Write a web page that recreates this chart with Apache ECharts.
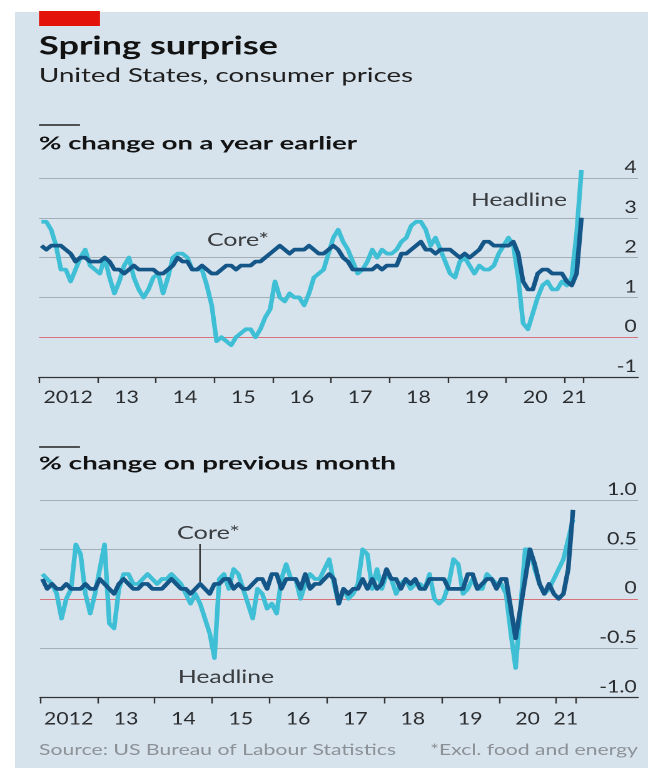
<!DOCTYPE html>
<html>
<head>
<meta charset="utf-8">
<title>Spring surprise</title>
<script src="https://cdn.jsdelivr.net/npm/echarts@6/dist/echarts.min.js"></script>
<style>
  html, body { margin: 0; padding: 0; background: #ffffff; overflow: hidden; }
  /* the chart is laid out on a narrower canvas and widened, giving the wide lettering */
  #chart { width: 518px; height: 768px; transform: scaleX(1.250965); transform-origin: 0 0; }
</style>
</head>
<body>
<div id="chart"></div>
<script>
// ---- data: US consumer prices, monthly, Jan 2012 to Apr 2021 ----
const yearLabels = ['2012', '13', '14', '15', '16', '17', '18', '19', '20', '21'];

// % change on a year earlier
const headlineYoY = [
  2.9, 2.9, 2.7, 2.3, 1.7, 1.7, 1.4, 1.7, 2.0, 2.2, 1.8, 1.7,
  1.6, 2.0, 1.5, 1.1, 1.4, 1.8, 2.0, 1.5, 1.2, 1.0, 1.2, 1.5,
  1.6, 1.1, 1.5, 2.0, 2.1, 2.1, 2.0, 1.7, 1.7, 1.7, 1.3, 0.8,
  -0.1, 0.0, -0.1, -0.2, 0.0, 0.1, 0.2, 0.2, 0.0, 0.2, 0.5, 0.7,
  1.4, 1.0, 0.9, 1.1, 1.0, 1.0, 0.8, 1.1, 1.5, 1.6, 1.7, 2.1,
  2.5, 2.7, 2.4, 2.2, 1.9, 1.6, 1.7, 1.9, 2.2, 2.0, 2.2, 2.1,
  2.1, 2.2, 2.4, 2.5, 2.8, 2.9, 2.9, 2.7, 2.3, 2.5, 2.2, 1.9,
  1.6, 1.5, 1.9, 2.0, 1.8, 1.6, 1.8, 1.7, 1.7, 1.8, 2.1, 2.3,
  2.5, 2.3, 1.5, 0.35, 0.2, 0.6, 1.0, 1.3, 1.4, 1.2, 1.2, 1.4,
  1.3, 1.5, 2.6, 4.2
];
const coreYoY = [
  2.3, 2.2, 2.3, 2.3, 2.3, 2.2, 2.1, 1.9, 2.0, 2.0, 1.9, 1.9,
  1.9, 2.0, 1.9, 1.7, 1.7, 1.6, 1.7, 1.8, 1.7, 1.7, 1.7, 1.7,
  1.6, 1.6, 1.7, 1.8, 2.0, 1.9, 1.9, 1.7, 1.7, 1.8, 1.7, 1.6,
  1.6, 1.7, 1.8, 1.8, 1.7, 1.8, 1.8, 1.8, 1.9, 1.9, 2.0, 2.1,
  2.2, 2.3, 2.2, 2.1, 2.2, 2.2, 2.2, 2.3, 2.2, 2.1, 2.1, 2.2,
  2.3, 2.2, 2.0, 1.9, 1.7, 1.7, 1.7, 1.7, 1.7, 1.8, 1.7, 1.8,
  1.8, 1.8, 2.1, 2.1, 2.2, 2.3, 2.4, 2.2, 2.2, 2.1, 2.2, 2.2,
  2.2, 2.1, 2.0, 2.1, 2.0, 2.1, 2.2, 2.4, 2.4, 2.3, 2.3, 2.3,
  2.3, 2.4, 2.1, 1.4, 1.2, 1.2, 1.6, 1.7, 1.7, 1.6, 1.6, 1.6,
  1.4, 1.3, 1.6, 3.0
];

// % change on previous month
const headlineMoM = [
  0.25, 0.2, 0.15, 0.05, -0.2, 0.0, 0.1, 0.55, 0.45, 0.05, -0.15, 0.05,
  0.3, 0.55, -0.25, -0.3, 0.1, 0.25, 0.25, 0.15, 0.15, 0.2, 0.25, 0.2,
  0.15, 0.2, 0.2, 0.25, 0.2, 0.15, 0.05, -0.05, 0.05, -0.05, -0.2, -0.35,
  -0.6, 0.2, 0.25, 0.1, 0.3, 0.25, 0.1, -0.05, -0.2, 0.1, 0.05, -0.1,
  -0.05, -0.15, 0.2, 0.35, 0.2, 0.2, 0.0, 0.15, 0.25, 0.2, 0.2, 0.3,
  0.4, 0.15, -0.05, 0.1, 0.0, 0.05, 0.15, 0.5, 0.45, 0.1, 0.3, 0.1,
  0.25, 0.2, 0.05, 0.15, 0.2, 0.1, 0.15, 0.15, 0.1, 0.25, 0.0, -0.05,
  0.0, 0.15, 0.4, 0.35, 0.05, 0.1, 0.2, 0.1, 0.1, 0.25, 0.2, 0.15,
  0.15, 0.05, -0.35, -0.7, -0.1, 0.5, 0.5, 0.3, 0.15, 0.05, 0.1, 0.2,
  0.3, 0.4, 0.6, 0.8
];
const coreMoM = [
  0.2, 0.1, 0.15, 0.1, 0.1, 0.15, 0.1, 0.1, 0.1, 0.15, 0.1, 0.1,
  0.2, 0.15, 0.1, 0.05, 0.15, 0.2, 0.15, 0.1, 0.1, 0.15, 0.15, 0.1,
  0.1, 0.1, 0.15, 0.2, 0.15, 0.1, 0.1, 0.05, 0.1, 0.15, 0.1, 0.05,
  0.15, 0.15, 0.2, 0.2, 0.1, 0.15, 0.1, 0.1, 0.15, 0.2, 0.2, 0.1,
  0.25, 0.25, 0.1, 0.2, 0.2, 0.2, 0.1, 0.25, 0.1, 0.15, 0.15, 0.2,
  0.25, 0.2, -0.05, 0.1, 0.05, 0.1, 0.1, 0.2, 0.1, 0.2, 0.1, 0.15,
  0.3, 0.2, 0.2, 0.1, 0.2, 0.15, 0.2, 0.1, 0.1, 0.2, 0.2, 0.2,
  0.2, 0.1, 0.1, 0.1, 0.1, 0.25, 0.25, 0.1, 0.15, 0.2, 0.2, 0.1,
  0.2, 0.2, -0.1, -0.4, -0.1, 0.2, 0.5, 0.35, 0.15, 0.05, 0.15, 0.05,
  0.0, 0.05, 0.3, 0.9
];

// ---- styling ----
const FONT = 'Lato, "Noto Sans", sans-serif';
const SX = 648 / 518;           // horizontal widening applied by CSS
const px = x => x / SX;         // page x -> canvas x

const BG = '#d7e3ec';
const GRID = '#a4aeb7';
const ZERO = '#d9737b';
const AXIS = '#333333';
const LABEL = '#2a2d30';
const ANN = '#3a3d40';
const SRC = '#8b9197';
const HEAD_C = '#3fbfd5';
const CORE_C = '#155688';

// month k plotted at the middle of its month, x measured in months from Jan 2012
const toPoints = arr => arr.map((v, k) => [k + 0.5, v]);

// year ticks and labels
const lastMonthEnd = headlineYoY.length;                    // end of Apr 2021
const tickPos = yearLabels.map((_, i) => i * 12).concat([lastMonthEnd]);
const labelPos = yearLabels.map((_, i) =>
  i < yearLabels.length - 1 ? i * 12 + 6 : (i * 12 + lastMonthEnd) / 2);
const labelFor = v => {
  const i = labelPos.findIndex(p => Math.abs(p - v) < 1e-6);
  return i >= 0 ? yearLabels[i] : '';
};

// text fitted to a given width on the page
const mctx = document.createElement('canvas').getContext('2d');
function fitText(text, left, cy, width, size, opts) {
  opts = opts || {};
  const weight = opts.weight || 'normal';
  mctx.font = weight + ' ' + size + 'px ' + FONT;
  const w = mctx.measureText(text).width || 1;
  const align = opts.align || 'left';
  return {
    type: 'text',
    x: align === 'right' ? px(left + width) : px(left),
    y: cy,
    scaleX: (width / SX) / w,
    silent: true,
    z: 10,
    style: {
      text: text,
      fill: opts.color || '#121212',
      fontSize: size,
      fontWeight: weight,
      fontFamily: FONT,
      align: align, textAlign: align,
      verticalAlign: 'middle', textVerticalAlign: 'middle'
    }
  };
}
const rule = (x1, y1, x2, y2, color, w) => ({
  type: 'line', silent: true, z: 10,
  shape: { x1: px(x1), y1: y1, x2: px(x2), y2: y2 },
  style: { stroke: color, lineWidth: w }
});

function xAxisFor(gridIndex, maxMonths, margin) {
  return {
    gridIndex: gridIndex, type: 'value', min: 0, max: maxMonths,
    axisLine: { show: true, onZero: false, lineStyle: { color: AXIS, width: 1.2 } },
    axisTick: { show: true, length: 6, customValues: tickPos, lineStyle: { color: AXIS, width: 1.2 } },
    axisLabel: {
      customValues: labelPos, formatter: labelFor, margin: margin,
      fontFamily: FONT, fontSize: 17, color: LABEL, lineHeight: 17
    },
    splitLine: { show: false }
  };
}
function yAxisFor(gridIndex, min, max, step, colors, fmt) {
  return {
    gridIndex: gridIndex, type: 'value', position: 'right', min: min, max: max, interval: step,
    axisLine: { show: false }, axisTick: { show: false },
    splitLine: { show: true, lineStyle: { color: colors, width: 1 } },
    axisLabel: {
      inside: true, margin: 1, formatter: fmt,
      fontFamily: FONT, fontSize: 17, color: LABEL,
      verticalAlign: 'bottom', lineHeight: 17, padding: [0, 0, 2, 0]
    }
  };
}
function lineSeries(name, data, color, idx, z) {
  return {
    name: name, type: 'line', xAxisIndex: idx, yAxisIndex: idx,
    data: toPoints(data), showSymbol: false, symbol: 'none', clip: false,
    lineStyle: { color: color, width: 3.7, join: 'round' },
    z: z, silent: true, animation: false
  };
}

const chart = echarts.init(document.getElementById('chart'), null, { renderer: 'canvas', devicePixelRatio: 2 });

chart.setOption({
  animation: false,
  backgroundColor: BG,
  grid: [
    { left: px(39), width: px(638) - px(39), top: 178, height: 199, containLabel: false, outerBoundsMode: 'none' },
    { left: px(40), width: px(638) - px(40), top: 500, height: 197.5, containLabel: false, outerBoundsMode: 'none' }
  ],
  xAxis: [
    xAxisFor(0, (638 - 39) / 4.865, 12),
    xAxisFor(1, (638 - 40) / 4.78, 13)
  ],
  yAxis: [
    yAxisFor(0, -1, 4, 1, [AXIS, ZERO, GRID, GRID, GRID, GRID], v => String(v)),
    yAxisFor(1, -1, 1, 0.5, [AXIS, GRID, ZERO, GRID, GRID], v => (v === 0 ? '0' : v.toFixed(1)))
  ],
  series: [
    lineSeries('Headline', headlineYoY, HEAD_C, 0, 2),
    lineSeries('Core*', coreYoY, CORE_C, 0, 3),
    lineSeries('Headline', headlineMoM, HEAD_C, 1, 2),
    lineSeries('Core*', coreMoM, CORE_C, 1, 3)
  ],
  graphic: [
    // white page margin
    { type: 'rect', silent: true, z: 20, shape: { x: 0, y: 0, width: 518, height: 12 }, style: { fill: '#ffffff' } },
    { type: 'rect', silent: true, z: 20, shape: { x: 0, y: 0, width: px(15), height: 768 }, style: { fill: '#ffffff' } },
    // red tag
    { type: 'rect', silent: true, z: 21, shape: { x: px(39), y: 11, width: px(100) - px(39), height: 15 }, style: { fill: '#e3120b' } },
    fitText('Spring surprise', 39, 46, 239, 26, { weight: 'bold', color: '#121212' }),
    fitText('United States, consumer prices', 39, 76, 374, 19, { color: '#1e1e1e' }),
    rule(39, 125, 80, 125, '#222222', 1.6),
    fitText('% change on a year earlier', 39, 143.5, 318, 18, { weight: 'bold' }),
    rule(39, 447, 80, 447, '#222222', 1.6),
    fitText('% change on previous month', 39, 463.5, 357, 18, { weight: 'bold' }),
    fitText('Core*', 207, 240, 62, 18, { color: ANN }),
    fitText('Headline', 471, 200, 96, 18, { color: ANN }),
    fitText('Core*', 177, 533, 63, 18, { color: ANN }),
    rule(200, 544, 200, 582, '#333333', 1.2),
    fitText('Headline', 178, 677, 96, 18, { color: ANN }),
    fitText('Source: US Bureau of Labour Statistics', 39, 750, 357, 15, { color: SRC }),
    fitText('*Excl. food and energy', 430, 750, 208, 15, { color: SRC, align: 'right' })
  ]
});
</script>
</body>
</html>
